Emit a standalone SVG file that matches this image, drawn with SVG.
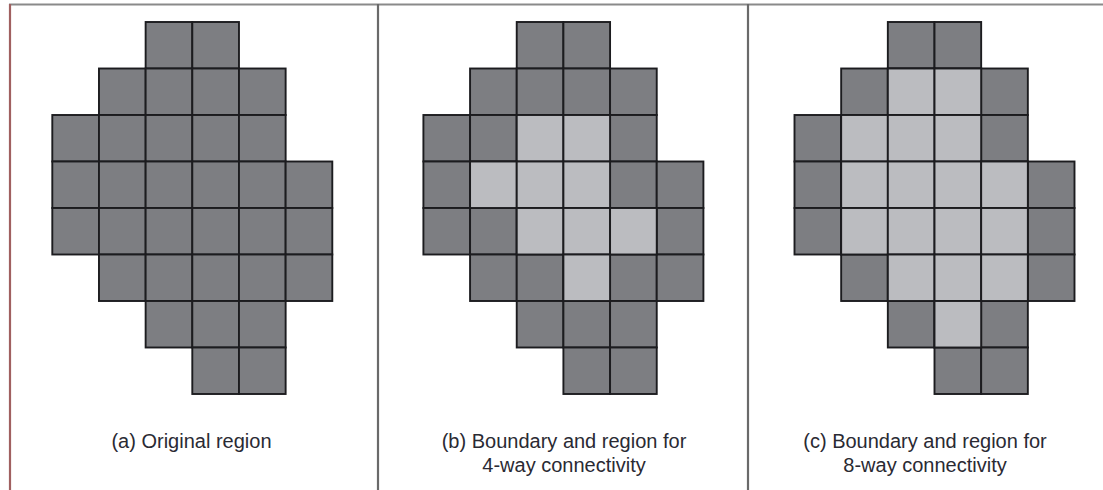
<svg xmlns="http://www.w3.org/2000/svg" xmlns:xlink="http://www.w3.org/1999/xlink" width="1103" height="490" viewBox="0 0 1103 490">
<style>
.d{fill:#7d7e82;stroke:#1c1c1f;stroke-width:1.9}
.l{fill:#bbbcc0;stroke:#1c1c1f;stroke-width:1.9}
.t{font-family:"Liberation Sans",Arial,sans-serif;font-size:20px;fill:#2a2a33;text-anchor:middle}
.frame{stroke-width:2.2;fill:none}
</style>
<defs>
<g id="grid">
<rect class="d" x="93.33" y="0" width="46.67" height="46.5"/>
<rect class="d" x="140" y="0" width="46.67" height="46.5"/>
<rect class="d" x="46.67" y="46.5" width="46.67" height="46.5"/>
<rect class="d" x="93.33" y="46.5" width="46.67" height="46.5"/>
<rect class="d" x="140" y="46.5" width="46.67" height="46.5"/>
<rect class="d" x="186.67" y="46.5" width="46.67" height="46.5"/>
<rect class="d" x="0" y="93" width="46.67" height="46.5"/>
<rect class="d" x="46.67" y="93" width="46.67" height="46.5"/>
<rect class="d" x="93.33" y="93" width="46.67" height="46.5"/>
<rect class="d" x="140" y="93" width="46.67" height="46.5"/>
<rect class="d" x="186.67" y="93" width="46.67" height="46.5"/>
<rect class="d" x="0" y="139.5" width="46.67" height="46.5"/>
<rect class="d" x="46.67" y="139.5" width="46.67" height="46.5"/>
<rect class="d" x="93.33" y="139.5" width="46.67" height="46.5"/>
<rect class="d" x="140" y="139.5" width="46.67" height="46.5"/>
<rect class="d" x="186.67" y="139.5" width="46.67" height="46.5"/>
<rect class="d" x="233.33" y="139.5" width="46.67" height="46.5"/>
<rect class="d" x="0" y="186" width="46.67" height="46.5"/>
<rect class="d" x="46.67" y="186" width="46.67" height="46.5"/>
<rect class="d" x="93.33" y="186" width="46.67" height="46.5"/>
<rect class="d" x="140" y="186" width="46.67" height="46.5"/>
<rect class="d" x="186.67" y="186" width="46.67" height="46.5"/>
<rect class="d" x="233.33" y="186" width="46.67" height="46.5"/>
<rect class="d" x="46.67" y="232.5" width="46.67" height="46.5"/>
<rect class="d" x="93.33" y="232.5" width="46.67" height="46.5"/>
<rect class="d" x="140" y="232.5" width="46.67" height="46.5"/>
<rect class="d" x="186.67" y="232.5" width="46.67" height="46.5"/>
<rect class="d" x="233.33" y="232.5" width="46.67" height="46.5"/>
<rect class="d" x="93.33" y="279" width="46.67" height="46.5"/>
<rect class="d" x="140" y="279" width="46.67" height="46.5"/>
<rect class="d" x="186.67" y="279" width="46.67" height="46.5"/>
<rect class="d" x="140" y="325.5" width="46.67" height="46.5"/>
<rect class="d" x="186.67" y="325.5" width="46.67" height="46.5"/>
</g>
</defs>
<rect width="1103" height="490" fill="#ffffff"/>
<g id="frame">
<line class="frame" x1="9" y1="4.5" x2="1103" y2="4.5" stroke="#8a8a8a"/>
<line class="frame" x1="10" y1="4" x2="10" y2="490" stroke="#a06060"/>
<line class="frame" x1="378" y1="4" x2="378" y2="490" stroke="#6a6a6a"/>
<line class="frame" x1="748" y1="4" x2="748" y2="490" stroke="#6a6a6a"/>
</g>
<g id="panel-a" transform="translate(52.3,22)">
<use xlink:href="#grid" href="#grid"/>
</g>
<g id="panel-b" transform="translate(423.4,22)">
<use xlink:href="#grid" href="#grid"/>
<rect class="l" x="93.33" y="93" width="46.67" height="46.5"/>
<rect class="l" x="140" y="93" width="46.67" height="46.5"/>
<rect class="l" x="46.67" y="139.5" width="46.67" height="46.5"/>
<rect class="l" x="93.33" y="139.5" width="46.67" height="46.5"/>
<rect class="l" x="140" y="139.5" width="46.67" height="46.5"/>
<rect class="l" x="93.33" y="186" width="46.67" height="46.5"/>
<rect class="l" x="140" y="186" width="46.67" height="46.5"/>
<rect class="l" x="186.67" y="186" width="46.67" height="46.5"/>
<rect class="l" x="140" y="232.5" width="46.67" height="46.5"/>
</g>
<g id="panel-c" transform="translate(794.5,22)">
<use xlink:href="#grid" href="#grid"/>
<rect class="l" x="93.33" y="46.5" width="46.67" height="46.5"/>
<rect class="l" x="140" y="46.5" width="46.67" height="46.5"/>
<rect class="l" x="46.67" y="93" width="46.67" height="46.5"/>
<rect class="l" x="93.33" y="93" width="46.67" height="46.5"/>
<rect class="l" x="140" y="93" width="46.67" height="46.5"/>
<rect class="l" x="46.67" y="139.5" width="46.67" height="46.5"/>
<rect class="l" x="93.33" y="139.5" width="46.67" height="46.5"/>
<rect class="l" x="140" y="139.5" width="46.67" height="46.5"/>
<rect class="l" x="186.67" y="139.5" width="46.67" height="46.5"/>
<rect class="l" x="46.67" y="186" width="46.67" height="46.5"/>
<rect class="l" x="93.33" y="186" width="46.67" height="46.5"/>
<rect class="l" x="140" y="186" width="46.67" height="46.5"/>
<rect class="l" x="186.67" y="186" width="46.67" height="46.5"/>
<rect class="l" x="93.33" y="232.5" width="46.67" height="46.5"/>
<rect class="l" x="140" y="232.5" width="46.67" height="46.5"/>
<rect class="l" x="186.67" y="232.5" width="46.67" height="46.5"/>
<rect class="l" x="140" y="279" width="46.67" height="46.5"/>
</g>
<g id="captions">
<text class="t" x="191.5" y="447.5">(a) Original region</text>
<text class="t" x="564" y="447.5">(b) Boundary and region for</text>
<text class="t" x="564" y="471.5">4-way connectivity</text>
<text class="t" x="925" y="447.5">(c) Boundary and region for</text>
<text class="t" x="925" y="471.5">8-way connectivity</text>
</g>
</svg>
